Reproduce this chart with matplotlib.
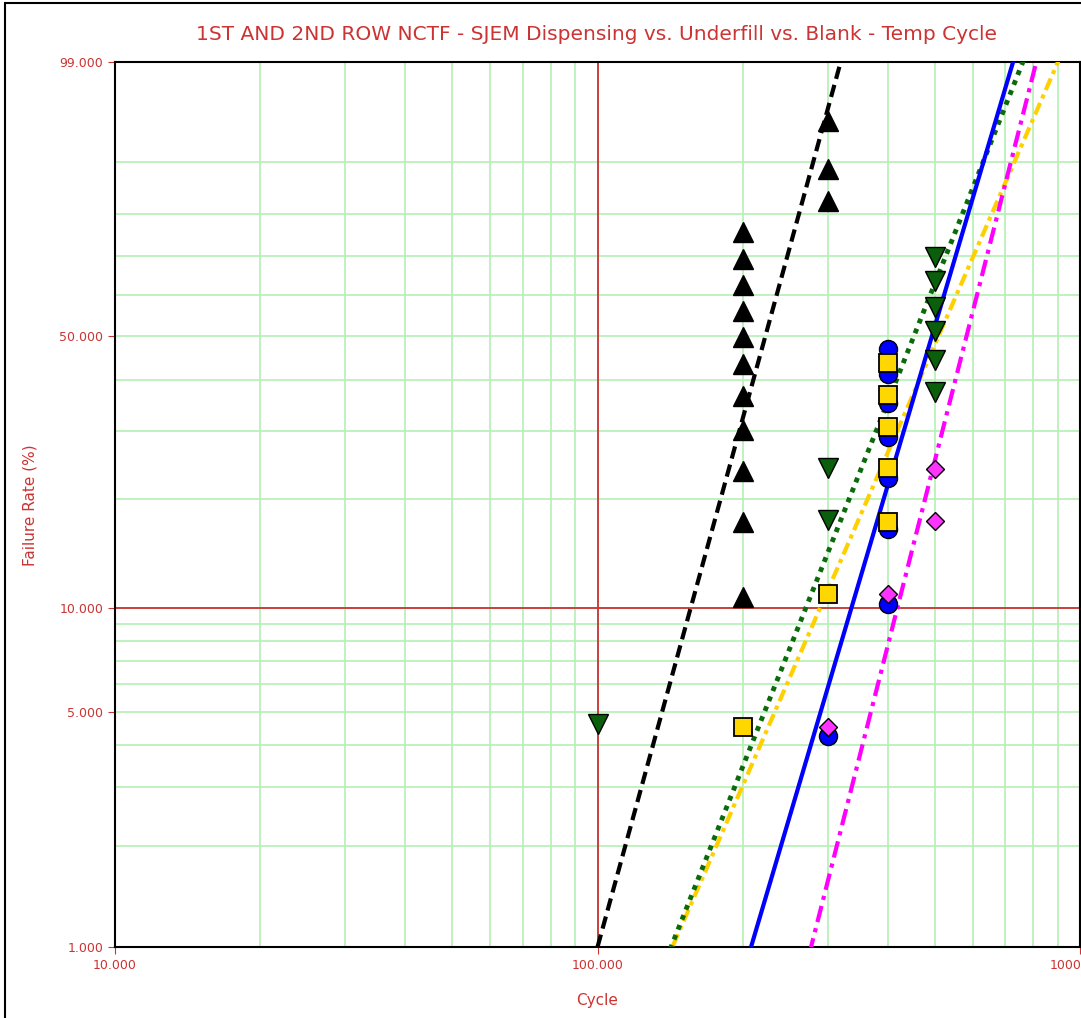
import numpy as np
import matplotlib
matplotlib.use("Agg")
import matplotlib.pyplot as plt
from matplotlib.patches import Rectangle

# 데이터
black_x = [200, 200, 200, 200, 200, 200, 200, 200, 200, 200, 200, 300, 300, 300]
black_F = [10.7, 17.4, 23.8, 30.2, 36.7, 43.5, 49.7, 56.1, 62.7, 69.1, 75.7, 82.7, 88.8, 95.3]

green_x = [100, 300, 300, 500, 500, 500, 500, 500, 500]
green_F = [4.6, 17.6, 24.2, 37.5, 44.2, 51.0, 57.1, 63.5, 69.8]

blue_x = [300, 400, 400, 400, 400, 400, 400, 400]
blue_F = [4.24, 10.25, 16.6, 22.8, 29.0, 35.3, 41.3, 46.9]

yellow_x = [200, 300, 400, 400, 400, 400, 400]
yellow_F = [4.5, 10.96, 17.4, 24.2, 30.7, 36.9, 43.7]

magenta_x = [300, 400, 500, 500]
magenta_F = [4.5, 10.96, 17.5, 24.1]

# 와이블 적합선 (beta, eta)
fit_beta = {'black': 5.28, 'green': 3.65, 'yellow': 3.33, 'blue': 4.90, 'magenta': 5.70}
fit_eta = {'black': 239, 'green': 501, 'yellow': 569, 'blue': 532, 'magenta': 621}

y_major = [1, 5, 10, 50, 99]
y_minor = [2, 3, 4, 6, 7, 8, 9, 20, 30, 40, 60, 70, 80, 90]
x_major = [10, 100, 1000]
x_minor = [20, 30, 40, 50, 60, 70, 80, 90, 200, 300, 400, 500, 600, 700, 800, 900]

RED = '#cc3333'
GRID = '#b4f0b4'


def fwd(F):
    F = np.clip(np.asarray(F, dtype=float), 1e-6, 100 - 1e-6)
    return np.log(-np.log(1 - F / 100.0))


def inv(w):
    return 100.0 * (1 - np.exp(-np.exp(np.asarray(w, dtype=float))))


fig = plt.figure(figsize=(10.81, 10.18), dpi=100)
ax = fig.add_axes([115 / 1081, 1 - 947 / 1018, 965 / 1081, 885 / 1018])
ax.set_xscale('log')
ax.set_yscale('function', functions=(fwd, inv))
ax.set_xlim(10, 1000)
ax.set_ylim(1, 99)

# 격자
ax.set_xticks(x_major)
ax.set_xticks(x_minor, minor=True)
ax.set_yticks(y_major)
ax.set_yticks(y_minor, minor=True)
ax.grid(which='both', color=GRID, linewidth=1.2, zorder=0)
ax.axvline(100, color=RED, linewidth=1.3, zorder=2)
ax.axhline(10, color=RED, linewidth=1.3, zorder=2)

ax.set_xticklabels(['10.000', '100.000', '1000.000'])
ax.set_yticklabels(['1.000', '5.000', '10.000', '50.000', '99.000'])
ax.tick_params(which='major', length=5, color=RED, labelcolor=RED, labelsize=9)
ax.tick_params(which='minor', length=0)
ax.xaxis.set_minor_formatter(plt.NullFormatter())
ax.yaxis.set_minor_formatter(plt.NullFormatter())
for s in ax.spines.values():
    s.set_color('black')
    s.set_linewidth(1.5)

# 적합선
F_line = np.linspace(0.5, 99.5, 400)
styles = {
    'black': dict(color='black', linestyle=(0, (3, 1.5)), linewidth=3),
    'green': dict(color='#0b6b0b', linestyle=(0, (1, 1.2)), linewidth=3.5),
    'yellow': dict(color='#ffd000', linestyle=(0, (3, 1.2, 1, 1.2)), linewidth=3),
    'blue': dict(color='#0000ff', linestyle='-', linewidth=3),
    'magenta': dict(color='#ff00ff', linestyle=(0, (4, 1.5, 1, 1.5)), linewidth=3),
}
for name in ['black', 'yellow', 'green', 'blue', 'magenta']:
    b = fit_beta[name]
    e = fit_eta[name]
    x_line = e * (-np.log(1 - F_line / 100.0)) ** (1 / b)
    ax.plot(x_line, F_line, zorder=3, **styles[name])

# 데이터 점
ax.plot(black_x, black_F, '^', color='black', markersize=15, markeredgecolor='black', zorder=5, clip_on=False)
ax.plot(green_x, green_F, 'v', color='#0b5e0b', markersize=14, markeredgecolor='black', zorder=5)
ax.plot(blue_x, blue_F, 'o', color='#0000ff', markersize=13, markeredgecolor='black', zorder=5)
ax.plot(yellow_x, yellow_F, 's', color='#ffd700', markersize=13, markeredgecolor='black',
        markeredgewidth=1.3, zorder=6)
ax.plot(magenta_x, magenta_F, 'D', color='#ff33ff', markersize=9.5, markeredgecolor='black', zorder=7)

# 글자
fig.text(597 / 1081, 1 - 35 / 1018,
         '1ST AND 2ND ROW NCTF - SJEM Dispensing vs. Underfill vs. Blank - Temp Cycle',
         ha='center', va='center', color=RED, fontsize=14.5)
fig.text(30 / 1081, 1 - 505 / 1018, 'Failure Rate (%)', rotation=90,
         ha='center', va='center', color=RED, fontsize=11)
fig.text(597 / 1081, 1 - 1000 / 1018, 'Cycle', ha='center', va='center', color=RED, fontsize=11)

# 바깥 테두리
fig.patches.append(Rectangle((5 / 1081, -0.02), 1.2, 1 - 3 / 1018 + 0.02, transform=fig.transFigure,
                             fill=False, edgecolor='black', linewidth=1.5))

fig.savefig('out.png', dpi=100)
